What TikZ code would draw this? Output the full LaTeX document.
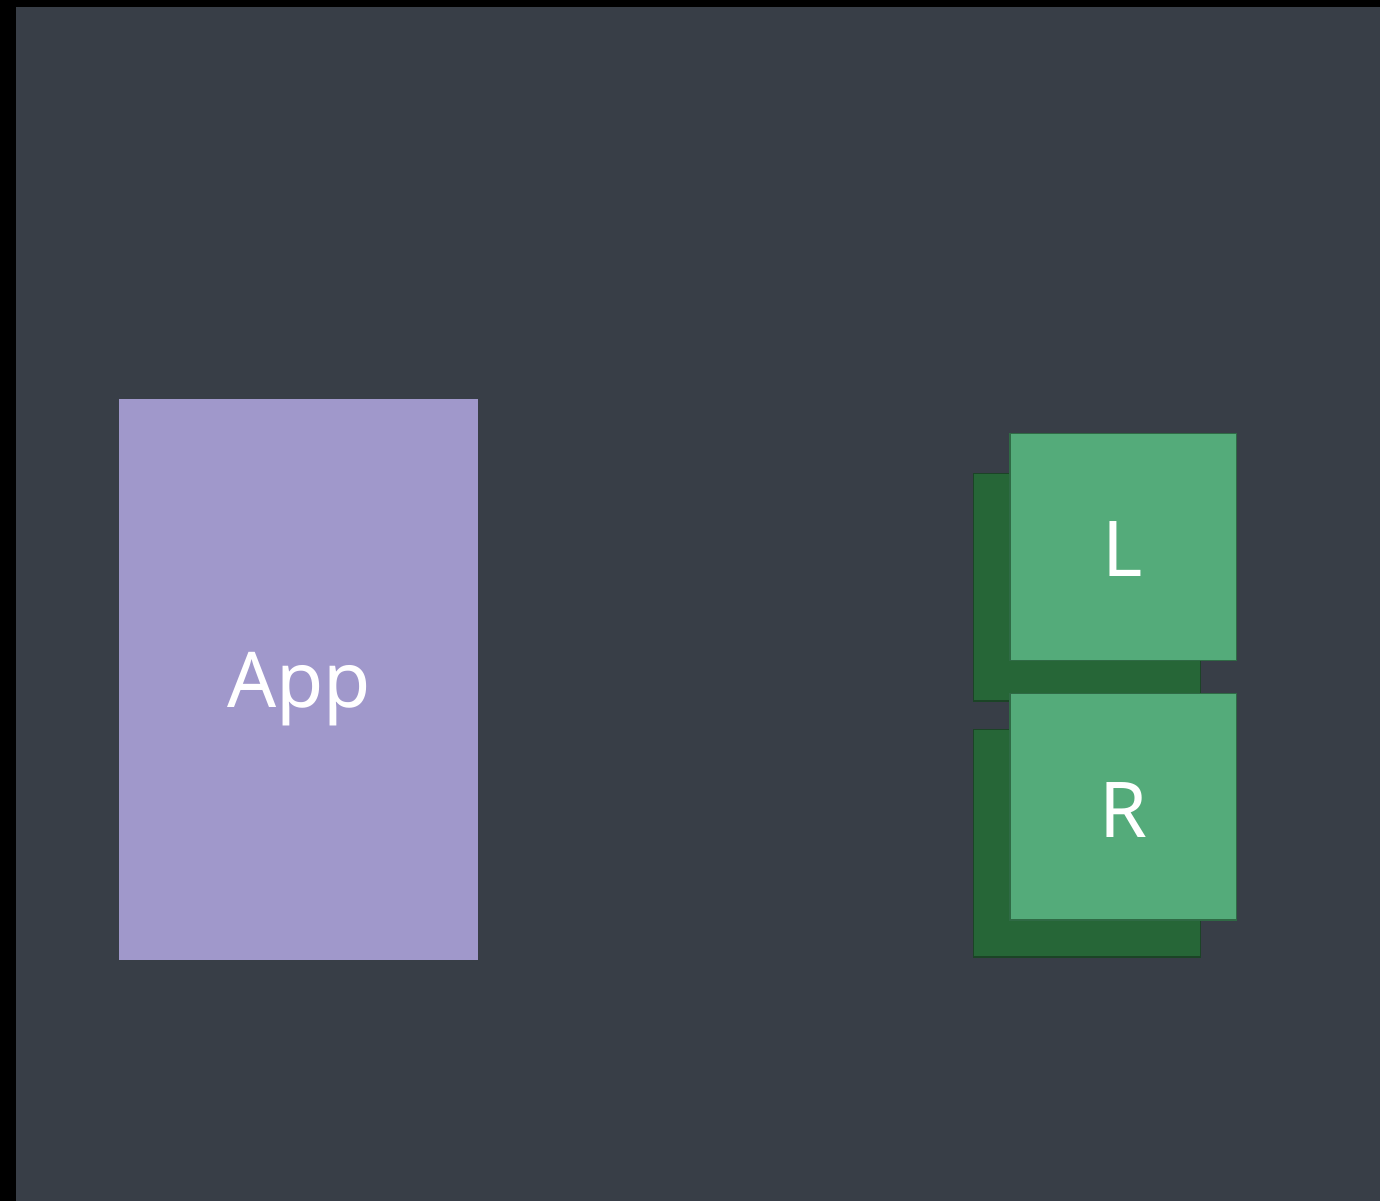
\documentclass[tikz,border=0pt]{standalone}
\usepackage{fontspec}
\setmainfont{Noto Sans}
\definecolor{bgc}{HTML}{383E47}
\definecolor{appc}{HTML}{A098CB}
\definecolor{frontg}{HTML}{54AB7A}
\definecolor{frontb}{HTML}{2F6A45}
\definecolor{backg}{HTML}{266637}
\definecolor{backb}{HTML}{1B4426}
\begin{document}
\begin{tikzpicture}[x=1pt,y=-1pt,
  frontbox/.style={fill=frontg,draw=frontb,line width=1.5pt},
  backbox/.style={fill=backg,draw=backb,line width=1.5pt},
  lbl/.style={text=white,font=\fontsize{77}{77}\selectfont,anchor=base,inner sep=0pt}]
\useasboundingbox (0,0) rectangle (1380,1201);
\fill[black] (0,0) rectangle (1380,1201);
\fill[bgc] (16,7) rectangle (1380,1201);
% App
\fill[appc] (119,399) rectangle (478,960);
\node[lbl] (app) at (299,707) {App};
% L group
\draw[backbox] (973.5,473.5) rectangle (1200.5,701);
\draw[frontbox] (1010,433.5) rectangle (1236.5,660.5);
\node[lbl] (l) at (1123,576) {L};
% R group
\draw[backbox] (973.5,729.5) rectangle (1200.5,957);
\draw[frontbox] (1010,693.5) rectangle (1236.5,920);
\node[lbl] (r) at (1123,837) {R};
\end{tikzpicture}
\end{document}
